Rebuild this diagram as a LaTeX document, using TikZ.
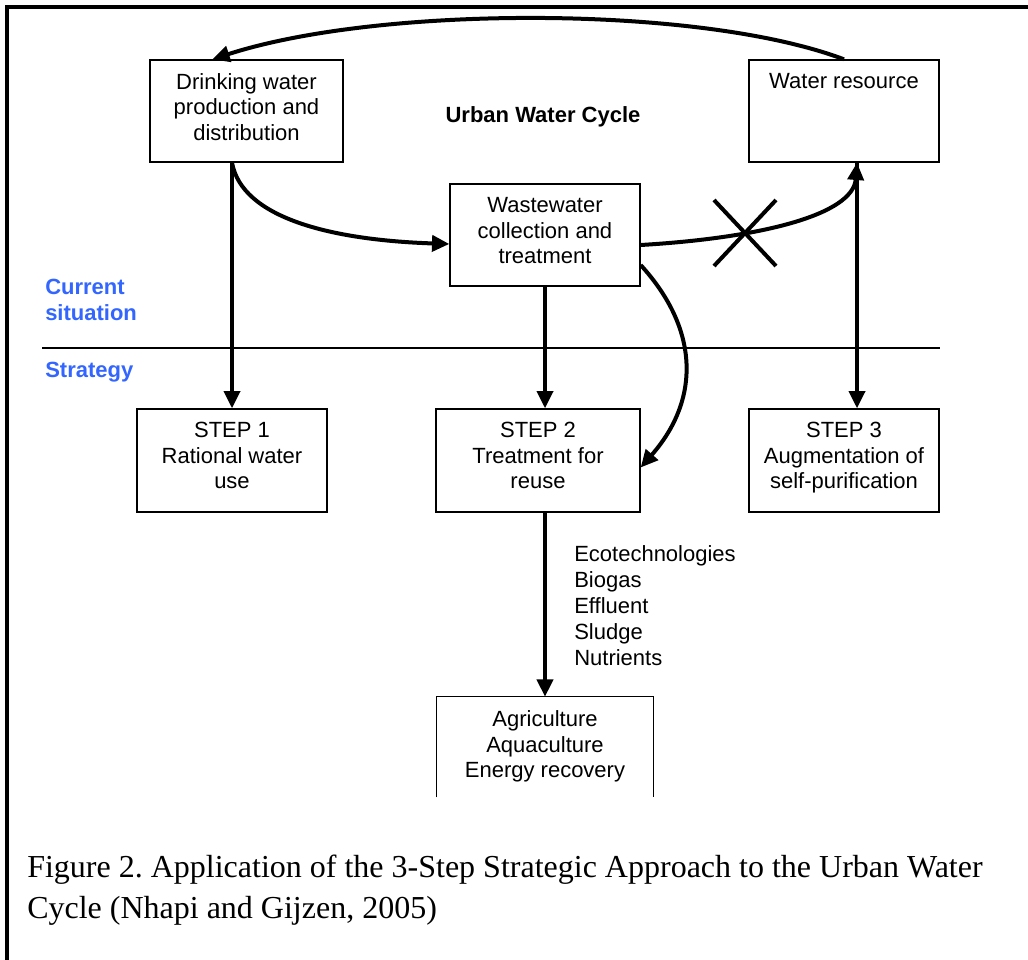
\documentclass[tikz,border=0pt]{standalone}
\usepackage{fontspec}
\setmainfont{Liberation Serif}
\setsansfont{Liberation Sans}
\usetikzlibrary{arrows.meta,fit,calc}
\definecolor{sitblue}{RGB}{51,102,255}
\tikzset{
  box/.style={draw, line width=1pt, inner sep=0pt},
  boxtext/.style={anchor=north, inner sep=0pt, yshift=-10.5pt, align=center, font=\sffamily\fontsize{16.5}{19}\selectfont},
  flow/.style={line width=3pt, -{Triangle[length=13pt,width=12pt]}},
  side/.style={anchor=north west, inner sep=0pt, align=left, text=sitblue, font=\sffamily\bfseries\fontsize{16.5}{19.5}\selectfont},
}
\begin{document}
\begin{tikzpicture}[x=0.75pt,y=-0.75pt] % pixel grid, y downwards
\useasboundingbox (0,0) rectangle (1028,960);
\draw[line width=3pt] (7,960) -- (7,7) -- (1028,7);

% boxes
\node[box, fit={(150,60) (343,162)}] (drink) {};
\node[boxtext] at (drink.north) {Drinking water\\production and\\distribution};
\node[box, fit={(749,60) (939,162)}] (wres) {};
\node[boxtext] at (wres.north) {Water resource};
\node[box, fit={(450,184) (640,286)}] (ww) {};
\node[boxtext] at (ww.north) {Wastewater\\collection and\\treatment};
\node[box, fit={(137,409) (327,512)}] (step1) {};
\node[boxtext] at (step1.north) {STEP 1\\Rational water\\use};
\node[box, fit={(436,409) (640,512)}] (step2) {};
\node[boxtext] at (step2.north) {STEP 2\\Treatment for\\reuse};
\node[box, fit={(749,409) (939,512)}] (step3) {};
\node[boxtext] at (step3.north) {STEP 3\\Augmentation of\\self-purification};
\node[inner sep=0pt, fit={(437,697) (653,797)}] (agri) {};
\draw[line width=1pt] (agri.south west) |- (agri.north east) -- (agri.south east);
\node[boxtext] at (agri.north) {Agriculture\\Aquaculture\\Energy recovery};

\node[font=\sffamily\bfseries\fontsize{16.5}{19}\selectfont] (title) at (543,117) {Urban Water Cycle};
\node[side] (cur) at (45,279) {Current\\situation};
\node[side] (strat) at (45,362) {Strategy};
\draw[line width=1pt] (42,348) -- (940,348);
\node[anchor=north west, inner sep=0pt, align=left, font=\sffamily\fontsize{16.5}{19.5}\selectfont] (prod) at (574,545)
  {Ecotechnologies\\Biogas\\Effluent\\Sludge\\Nutrients};

% connectors
\coordinate (d1) at (step1.north |- drink.south);
\coordinate (w1) at ($(wres.south)+(13,0)$);
\draw[flow] (wres.north) .. controls (700,5) and (380,5) .. ($(drink.north west)+(63,0)$);
\draw[flow] (d1) -- (step1.north);
\draw[flow] (d1) .. controls ($(d1)+(10,55)$) and (330,240) .. ($(ww.west)+(0,9)$);
\draw[flow] ($(ww.east)+(0,10)$) .. controls (760,238) and (853,215) .. (w1);
\draw[flow] (w1) -- (w1 |- step3.north);
\draw[flow] ($(ww.east)+(0,30)$) .. controls (700,330) and (700,400) .. ($(step2.east)+(0,7)$);
\draw[flow] (ww.south) -- (ww.south |- step2.north);
\draw[flow] (agri.north |- step2.south) -- (agri.north);

\coordinate (cut) at (745,233);
\draw[line width=3pt] ($(cut)+(-31,-33)$) -- ($(cut)+(31,33)$) ($(cut)+(31,-33)$) -- ($(cut)+(-31,33)$);

\node[anchor=north west, inner sep=0pt, align=left, font=\fontsize{24}{30.75}\selectfont] (cap) at (27,855)
  {\frenchspacing Figure 2. Application of the 3-Step Strategic Approach to the Urban Water\\Cycle (Nhapi and Gijzen, 2005)};
\end{tikzpicture}
\end{document}
